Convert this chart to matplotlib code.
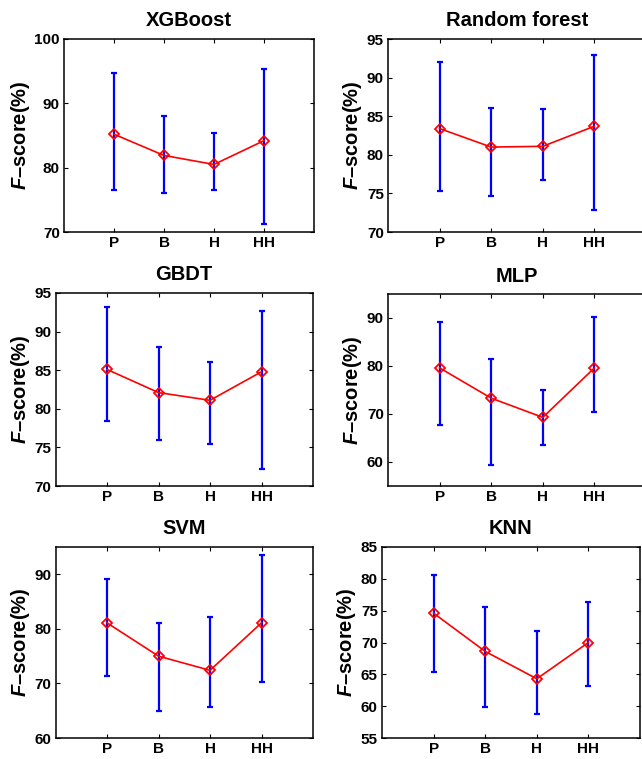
import matplotlib
matplotlib.use("Agg")
import matplotlib.pyplot as plt
import numpy as np

plt.rcParams["font.family"] = ["Liberation Sans", "DejaVu Sans"]
plt.rcParams["font.weight"] = "bold"
plt.rcParams["mathtext.fontset"] = "custom"
plt.rcParams["mathtext.it"] = "Liberation Sans:italic:bold"
plt.rcParams["mathtext.rm"] = "Liberation Sans:bold"

categories = ["P", "B", "H", "HH"]
models = ["XGBoost", "Random forest", "GBDT", "MLP", "SVM", "KNN"]

# mean F-score and the low / high ends of each bar (%)
xgb_mean = [85.2, 81.9, 80.5, 84.2]
xgb_low = [76.5, 76.1, 76.6, 71.2]
xgb_high = [94.7, 88.1, 85.4, 95.4]

rf_mean = [83.4, 81.0, 81.1, 83.7]
rf_low = [75.3, 74.7, 76.8, 72.8]
rf_high = [92.0, 86.1, 85.9, 92.9]

gbdt_mean = [85.1, 82.1, 81.1, 84.8]
gbdt_low = [78.4, 75.9, 75.5, 72.2]
gbdt_high = [93.2, 88.0, 86.0, 92.7]

mlp_mean = [79.6, 73.3, 69.3, 79.6]
mlp_low = [67.7, 59.3, 63.5, 70.4]
mlp_high = [89.2, 81.4, 75.0, 90.3]

svm_mean = [81.1, 75.0, 72.4, 81.1]
svm_low = [71.3, 64.9, 65.7, 70.2]
svm_high = [89.1, 81.1, 82.1, 93.5]

knn_mean = [74.6, 68.6, 64.3, 70.0]
knn_low = [65.3, 59.8, 58.8, 63.1]
knn_high = [80.6, 75.6, 71.8, 76.4]

means = [xgb_mean, rf_mean, gbdt_mean, mlp_mean, svm_mean, knn_mean]
lows = [xgb_low, rf_low, gbdt_low, mlp_low, svm_low, knn_low]
highs = [xgb_high, rf_high, gbdt_high, mlp_high, svm_high, knn_high]

y_limits = [(70, 100), (70, 95), (70, 95), (55, 95), (60, 95), (55, 85)]
y_ticks = [
    [70, 80, 90, 100],
    [70, 75, 80, 85, 90, 95],
    [70, 75, 80, 85, 90, 95],
    [60, 70, 80, 90],
    [60, 70, 80, 90],
    [55, 60, 65, 70, 75, 80, 85],
]

W, H = 642, 759
# axes boxes in pixels: left, top, right, bottom
boxes = [
    (64, 39, 314, 232),
    (388, 39, 646, 232),
    (55.5, 293, 313, 486),
    (388, 294, 646, 486),
    (55.5, 547, 313, 738),
    (382, 547, 640, 738),
]

fig = plt.figure(figsize=(W / 100, H / 100), dpi=100)
x = np.arange(1, len(categories) + 1)

for i, name in enumerate(models):
    l, t, r, b = boxes[i]
    ax = fig.add_axes([l / W, 1 - b / H, (r - l) / W, (b - t) / H])
    m = np.array(means[i])
    lo = np.array(lows[i])
    hi = np.array(highs[i])
    ax.errorbar(x, m, yerr=[m - lo, hi - m], fmt="none", ecolor="#0000ff",
                elinewidth=1.6, capsize=2.2, capthick=1.6, zorder=2)
    ax.plot(x, m, color="#ff0000", linewidth=1.2, marker="D", markersize=5.5,
            markerfacecolor="none", markeredgecolor="#ff0000",
            markeredgewidth=1.3, zorder=3)
    ax.set_xlim(0, 5)
    ax.set_ylim(*y_limits[i])
    ax.set_xticks(x)
    ax.set_xticklabels(categories)
    ax.set_yticks(y_ticks[i])
    ax.tick_params(direction="in", length=3, width=0.8, labelsize=11,
                   top=True, right=True, pad=3)
    for lab in ax.get_xticklabels() + ax.get_yticklabels():
        lab.set_fontweight("bold")
    for sp in ax.spines.values():
        sp.set_linewidth(1.1)
    ax.set_title(name, fontsize=14.5, fontweight="bold", pad=9)
    ax.set_ylabel(r"$\mathit{F}$–score(%)", fontsize=14.5, fontweight="bold",
                  labelpad=2)

fig.savefig("out.png", dpi=100)
